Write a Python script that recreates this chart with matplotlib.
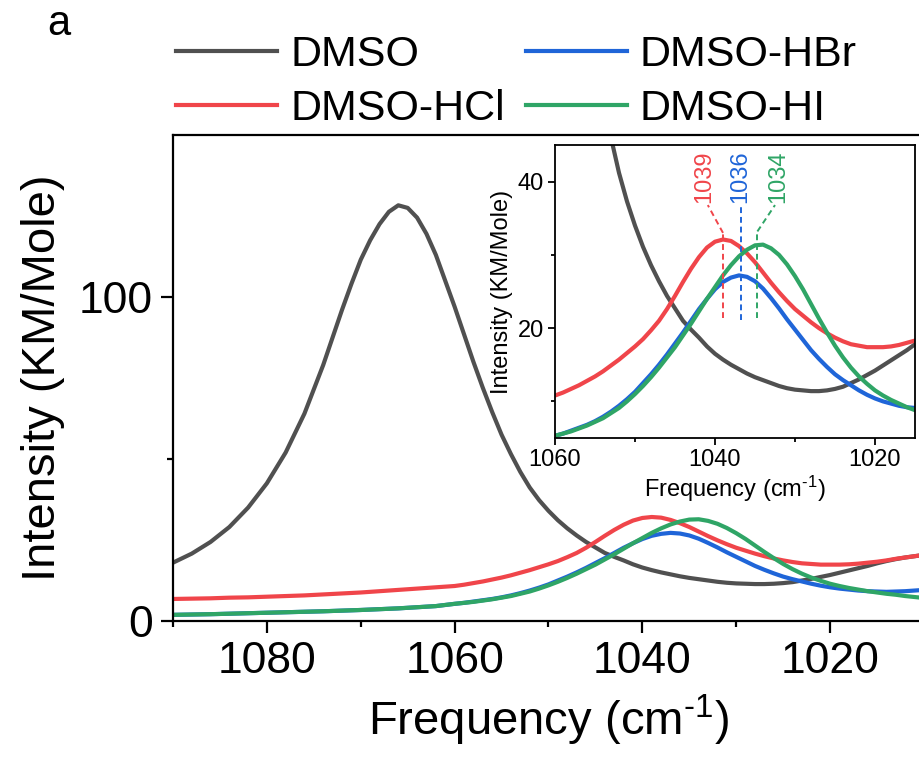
import matplotlib
matplotlib.use('Agg')
import matplotlib.pyplot as plt
from matplotlib.ticker import FixedLocator

plt.rcParams['font.family'] = ['Liberation Sans', 'DejaVu Sans']
plt.rcParams['mathtext.fontset'] = 'custom'
plt.rcParams['mathtext.rm'] = 'Liberation Sans'
plt.rcParams['mathtext.it'] = 'Liberation Sans:italic'

# ---------------- data ----------------
labels = ['DMSO', 'DMSO-HCl', 'DMSO-HBr', 'DMSO-HI']
colors = ['#505050', '#f0454a', '#1f65d8', '#2fa566']

freq_dmso = [1090, 1088, 1086, 1084, 1082, 1080, 1078, 1076, 1074, 1072, 1071, 1070,
             1069, 1068, 1067, 1066, 1065, 1064, 1063, 1062, 1061, 1060, 1059, 1058,
             1057, 1056, 1055, 1054, 1053, 1052, 1051, 1050, 1049, 1048, 1047, 1046,
             1045, 1044, 1043, 1042, 1041, 1040, 1039, 1038, 1037, 1036, 1035, 1034,
             1033, 1032, 1031, 1030, 1029, 1028, 1027, 1026, 1025, 1024, 1023, 1022,
             1021, 1020, 1019, 1018, 1017, 1016, 1015, 1014, 1013, 1012, 1011, 1010]
int_dmso = [18.0, 20.8, 24.4, 29.0, 35.0, 42.5, 52.0, 64.0, 79.0, 96.0, 104.0, 111.5,
            117.5, 122.5, 126.3, 128.3, 127.5, 124.5, 119.5, 113.0, 105.0, 97.0, 88.5, 80.0,
            72.0, 64.5, 57.5, 51.5, 46.0, 41.2, 37.3, 34.0, 31.1, 28.6, 26.4, 24.4,
            22.7, 21.0, 19.8, 18.7, 17.5, 16.5, 15.7, 15.0, 14.4, 13.8, 13.3, 12.9,
            12.5, 12.1, 11.8, 11.6, 11.5, 11.4, 11.4, 11.5, 11.7, 12.0, 12.5, 13.0,
            13.6, 14.2, 14.9, 15.6, 16.3, 17.0, 17.8, 18.5, 19.1, 19.6, 20.0, 20.4]

freq_hcl = [1090, 1088, 1086, 1084, 1082, 1080, 1078, 1076, 1074, 1072, 1070, 1068,
            1066, 1064, 1062, 1060, 1059, 1058, 1057, 1056, 1055, 1054, 1053, 1052,
            1051, 1050, 1049, 1048, 1047, 1046, 1045, 1044, 1043, 1042, 1041, 1040,
            1039, 1038, 1037, 1036, 1035, 1034, 1033, 1032, 1031, 1030, 1029, 1028,
            1027, 1026, 1025, 1024, 1023, 1022, 1021, 1020, 1019, 1018, 1017, 1016,
            1015, 1014, 1013, 1012, 1011, 1010]
int_hcl = [6.8, 6.9, 7.0, 7.2, 7.3, 7.5, 7.7, 7.9, 8.2, 8.5, 8.8, 9.2,
           9.6, 10.0, 10.4, 10.8, 11.2, 11.7, 12.2, 12.8, 13.4, 14.1, 14.9, 15.7,
           16.6, 17.5, 18.5, 19.7, 21.0, 22.6, 24.4, 26.3, 28.1, 29.7, 31.0, 31.8,
           32.1, 31.9, 31.2, 30.2, 29.0, 27.6, 26.2, 24.9, 23.7, 22.6, 21.7, 20.8,
           20.0, 19.3, 18.7, 18.2, 17.8, 17.6, 17.4, 17.4, 17.4, 17.5, 17.7, 18.0,
           18.3, 18.7, 19.2, 19.6, 20.0, 20.4]

freq_hbr = [1090, 1086, 1082, 1078, 1074, 1070, 1066, 1062, 1060, 1059, 1058, 1057,
            1056, 1055, 1054, 1053, 1052, 1051, 1050, 1049, 1048, 1047, 1046, 1045,
            1044, 1043, 1042, 1041, 1040, 1039, 1038, 1037, 1036, 1035, 1034, 1033,
            1032, 1031, 1030, 1029, 1028, 1027, 1026, 1025, 1024, 1023, 1022, 1021,
            1020, 1019, 1018, 1017, 1016, 1015, 1014, 1013, 1012, 1011, 1010]
int_hbr = [1.9, 2.1, 2.4, 2.7, 3.0, 3.4, 3.9, 4.6, 5.3, 5.6, 6.0, 6.4,
           6.8, 7.3, 7.9, 8.6, 9.4, 10.3, 11.3, 12.5, 13.7, 15.0, 16.4, 17.9,
           19.4, 21.0, 22.6, 24.0, 25.3, 26.3, 26.9, 27.2, 27.0, 26.4, 25.4, 24.1,
           22.7, 21.2, 19.8, 18.4, 17.0, 15.8, 14.7, 13.7, 12.9, 12.2, 11.5, 10.9,
           10.4, 10.0, 9.7, 9.4, 9.2, 9.1, 9.0, 9.1, 9.2, 9.4, 9.6]

freq_hi = [1090, 1086, 1082, 1078, 1074, 1070, 1066, 1062, 1060, 1059, 1058, 1057,
           1056, 1055, 1054, 1053, 1052, 1051, 1050, 1049, 1048, 1047, 1046, 1045,
           1044, 1043, 1042, 1041, 1040, 1039, 1038, 1037, 1036, 1035, 1034, 1033,
           1032, 1031, 1030, 1029, 1028, 1027, 1026, 1025, 1024, 1023, 1022, 1021,
           1020, 1019, 1018, 1017, 1016, 1015, 1014, 1013, 1012, 1011, 1010]
int_hi = [1.9, 2.1, 2.4, 2.7, 3.0, 3.4, 3.9, 4.6, 5.3, 5.6, 5.9, 6.3,
          6.7, 7.2, 7.7, 8.4, 9.1, 10.0, 11.0, 12.1, 13.3, 14.6, 16.0, 17.4,
          19.0, 20.6, 22.3, 24.0, 25.6, 27.2, 28.6, 29.8, 30.7, 31.3, 31.4, 30.9,
          30.0, 28.7, 27.1, 25.3, 23.3, 21.3, 19.4, 17.6, 16.0, 14.6, 13.4, 12.4,
          11.5, 10.8, 10.2, 9.7, 9.2, 8.8, 8.4, 8.1, 7.7, 7.4, 7.1]

peak_labels = ['1039', '1036', '1034']

main_xticks = [1080, 1060, 1040, 1020]
main_xminor = [1090, 1070, 1050, 1030, 1010]
main_yticks = [0, 100]
main_yminor = [50]
inset_xticks = [1060, 1040, 1020]
inset_xminor = [1050, 1030]
inset_yticks = [20, 40]
inset_yminor = [10, 30]

series = [(freq_dmso, int_dmso), (freq_hcl, int_hcl), (freq_hbr, int_hbr), (freq_hi, int_hi)]

# ---------------- figure ----------------
W, H = 920, 758
fig = plt.figure(figsize=(W / 100, H / 100), dpi=100)

ax = fig.add_axes([173 / W, 1 - 621 / H, (924 - 173) / W, (621 - 135) / H])
handles = []
for (f, y), c, lab in zip(series, colors, labels):
    h, = ax.plot(f, y, color=c, lw=3.0, label=lab, solid_joinstyle='round')
    handles.append(h)
ax.set_xlim(1090, 1010)
ax.set_ylim(0, 150)
ax.xaxis.set_major_locator(FixedLocator(main_xticks))
ax.xaxis.set_minor_locator(FixedLocator(main_xminor))
ax.yaxis.set_major_locator(FixedLocator(main_yticks))
ax.yaxis.set_minor_locator(FixedLocator(main_yminor))
for s in ax.spines.values():
    s.set_linewidth(1.6)
ax.tick_params(which='major', direction='out', length=8.5, width=1.6, labelsize=32, pad=6)
ax.tick_params(which='minor', direction='out', length=4.5, width=1.6)
ax.set_xlabel('Frequency (cm$^{\\mathregular{\u20101}}$)', fontsize=34, labelpad=8)
ax.set_ylabel('Intensity (KM/Mole)', fontsize=34, labelpad=10)

fig.legend(handles, labels, ncol=2, loc='upper left', bbox_to_anchor=(176 / W, 0.954),
           frameon=False, fontsize=31, handlelength=2.35, handletextpad=0.3,
           columnspacing=0.49, labelspacing=0.33, borderaxespad=0, borderpad=0)

fig.text(47 / W, 1 - 24 / H, 'a', fontsize=30, ha='left', va='center')

# ---------------- inset ----------------
axi = fig.add_axes([555 / W, 1 - 438 / H, (915 - 555) / W, (438 - 145) / H])
axi.set_facecolor('white')
for (f, y), c in zip(series, colors):
    axi.plot(f, y, color=c, lw=3.0, solid_joinstyle='round')
axi.set_xlim(1060, 1015)
axi.set_ylim(5, 45)
axi.xaxis.set_major_locator(FixedLocator(inset_xticks))
axi.xaxis.set_minor_locator(FixedLocator(inset_xminor))
axi.yaxis.set_major_locator(FixedLocator(inset_yticks))
axi.yaxis.set_minor_locator(FixedLocator(inset_yminor))
for s in axi.spines.values():
    s.set_linewidth(1.3)
axi.tick_params(which='major', direction='out', length=5, width=1.3, labelsize=17, pad=3)
axi.tick_params(which='minor', direction='out', length=3, width=1.3)
axi.set_xlabel('Frequency (cm$^{\\mathregular{\u20101}}$)', fontsize=17, labelpad=2)
axi.set_ylabel('Intensity (KM/Mole)', fontsize=17, labelpad=3)

dash = dict(lw=1.4, ls=(0, (3, 2)))
# 1039 (HCl)
axi.plot([1039, 1039], [21.4, 33.0], color=colors[1], **dash)
axi.plot([1039, 1040.9], [33.0, 36.8], color=colors[1], **dash)
axi.text(1041.4, 37.1, peak_labels[0], rotation=90, color=colors[1], fontsize=17,
         ha='center', va='bottom')
# 1036 (HBr)
axi.plot([1036.8, 1036.8], [21.1, 36.6], color=colors[2], **dash)
axi.text(1036.8, 37.1, peak_labels[1], rotation=90, color=colors[2], fontsize=17,
         ha='center', va='bottom')
# 1034 (HI)
axi.plot([1034.7, 1034.7], [21.4, 33.2], color=colors[3], **dash)
axi.plot([1034.7, 1032.5], [33.2, 36.8], color=colors[3], **dash)
axi.text(1032.1, 37.1, peak_labels[2], rotation=90, color=colors[3], fontsize=17,
         ha='center', va='bottom')

fig.savefig('out.png', dpi=100)
